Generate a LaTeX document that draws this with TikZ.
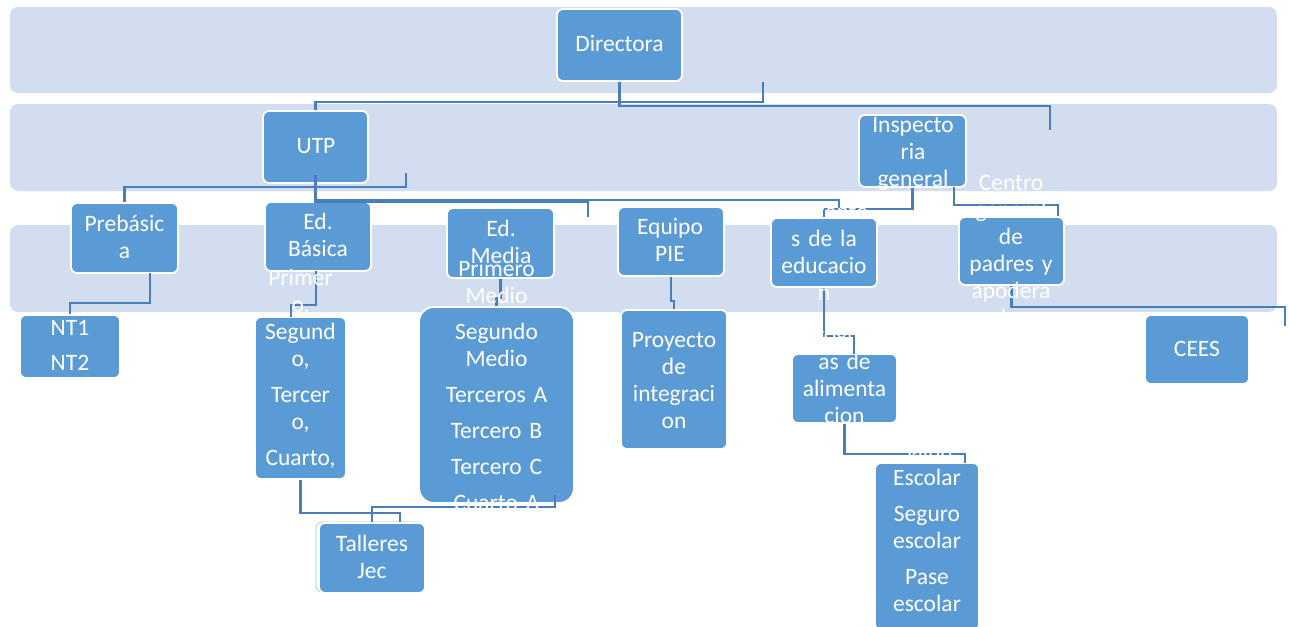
\documentclass[tikz,border=0pt]{standalone}
\usepackage{fontspec}
\setmainfont{Carlito}
\usetikzlibrary{calc}
\definecolor{bandc}{RGB}{210,222,239}
\definecolor{boxc}{RGB}{91,155,213}
\definecolor{linec}{RGB}{74,126,187}
\begin{document}
\begin{tikzpicture}[x=1pt,y=-1pt,
  band/.style={fill=bandc, rounded corners=8pt},
  box/.style={rectangle, fill=boxc, draw=white, line width=1.8pt, rounded corners=6pt, inner sep=0pt},
  conn/.style={draw=linec, line width=2.6pt},
  txt/.style={text=white, font=\fontsize{23.5}{27}\selectfont, align=center, text width=150pt, inner sep=0pt, anchor=base}]
\useasboundingbox (0,0) rectangle (1289,626);
% bands
\fill[band] (10,7) rectangle (1277,93);
\fill[band] (10,104) rectangle (1277,191);
\fill[band] (10,225) rectangle (1277,312);
% talleres shadow edge
\draw[linec!45, line width=0.8pt, rounded corners=6pt] (316,522) rectangle (422,592);
% boxes
\node[box, minimum width=125pt, minimum height=72pt] (dir) at (619.5,45) {};
\node[box, minimum width=105pt, minimum height=72pt] (utp) at (315.5,147) {};
\node[box, minimum width=107pt, minimum height=72pt] (ins) at (912.5,151) {};
\node[box, minimum width=107pt, minimum height=70pt] (pre) at (124.5,238) {};
\node[box, minimum width=106pt, minimum height=69pt] (bas) at (318,236.5) {};
\node[box, minimum width=107pt, minimum height=70pt] (med) at (500.5,243) {};
\node[box, minimum width=106pt, minimum height=69pt] (pie) at (671,241.5) {};
\node[box, minimum width=106pt, minimum height=69pt] (asi) at (824,252.5) {};
\node[box, minimum width=105pt, minimum height=68pt] (cen) at (1011.5,251) {};
\node[box, minimum width=100pt, minimum height=63pt] (nt) at (70,346.5) {};
\node[box, minimum width=91pt, minimum height=162pt] (pri) at (300.5,398) {};
\node[box, minimum width=155pt, minimum height=196pt, rounded corners=15pt] (pm) at (496.5,405) {};
\node[box, minimum width=106pt, minimum height=139pt] (pro) at (674,379.5) {};
\node[box, minimum width=105pt, minimum height=69pt] (prg) at (844.5,388.5) {};
\node[box, minimum width=104pt, minimum height=167pt] (sal) at (927,546.5) {};
\node[box, minimum width=104pt, minimum height=69pt] (cees) at (1197,349.5) {};
\node[box, minimum width=106pt, minimum height=70pt] (tal) at (372,558) {};
% free connector ends
\coordinate (d1) at (763,82);
\coordinate (i1) at (1050,130);
\coordinate (u1) at (406,173);
\coordinate (m1) at (588,217);
\coordinate (a1) at (839,210);
\coordinate (i2) at (954,187);
\coordinate (c1) at (1058,216);
\coordinate (p1) at (150,273);
\coordinate (b1) at (316,271);
\coordinate (b2) at (291,317);
\coordinate (g1) at (854,354);
\coordinate (s1) at (965,463);
\coordinate (e1) at (1285,326);
\coordinate (t1) at (400,522);
\coordinate (pm1) at (555,495);
% connectors
\draw[conn] (d1) |- ($(utp.north)+(0,-8)$) -- (utp.north);
\draw[conn] (dir.south) -- ++(0,24) -| (i1);
\draw[conn] (u1) |- ($(pre.north)+(0,-15)$) -- (pre.north);
\draw[conn] ($(utp.south)+(0,-9)$) -- (utp.south |- bas.north);
\draw[conn] (utp.south) -- ++(0,18) -| (m1);
\draw[conn] (utp.south) -- ++(0,16) -| (a1);
\draw[conn] (ins.south) -- ++(0,21) -| (asi.north);
\draw[conn] (i2) -- ++(0,18) -| (c1);
\draw[conn] (p1) -- ++(0,30) -| (nt.north);
\draw[conn] (b1) -- ++(0,34) -| (b2);
\draw[conn] (med.south) -- ++(0,19) -| (pm.north);
\draw[conn] (pie.south) -- ++(0,24) -| (pro.north);
\draw[conn] (asi.south) -- ++(0,48) -| (g1);
\draw[conn] (prg.south) -- ++(0,30) -| (s1);
\draw[conn] (cen.south) -- ++(0,21) -| (e1);
\draw[conn] (pri.south) -- ++(0,33) -| (t1);
\draw[conn] (pm1) -- ++(0,12) -| (tal.north);
% texts
\node[txt] (tdir) at (619.5,52) {Directora};
\node[txt] (tutp) at (316,153) {UTP};
\node[txt] (tins) at (913,132) {Inspecto\\ria\\general};
\node[txt] (tpre) at (124.5,231) {Prebásic\\a};
\node[txt] (tbas) at (318,229) {Ed.\\Básica};
\node[txt] (tmed) at (501,236) {Ed.\\Media};
\node[txt] (tpie) at (670,234) {Equipo\\PIE};
\node[txt] (tasi) at (824,219) {Asistente\\s de la\\educacio\\n};
\node[txt] (tcen) at (1011,190) {Centro\\general\\de\\padres y\\apodera\\dos};
\node[txt] (tnt) at (70,335) {NT1\\[8pt]NT2};
\node[txt] (tpri) at (300.5,285) {Primer\\o,\\Segund\\o,\\[9pt]Tercer\\o,\\[9pt]Cuarto,};
\node[txt] (tpm) at (496.5,276) {Primero\\Medio\\[9pt]Segundo\\Medio\\[9pt]Terceros A\\[9pt]Tercero B\\[9pt]Tercero C\\[9pt]Cuarto A};
\node[txt] (tpro) at (674,347) {Proyecto\\de\\integraci\\on};
\node[txt] (tprg) at (844.5,342) {Program\\as de\\alimenta\\cion};
\node[txt] (tsal) at (927,458) {Salud\\Escolar\\[9pt]Seguro\\escolar\\[9pt]Pase\\escolar};
\node[txt] (tcees) at (1197,356) {CEES};
\node[txt] (ttal) at (372,551) {Talleres\\Jec};
\end{tikzpicture}
\end{document}
